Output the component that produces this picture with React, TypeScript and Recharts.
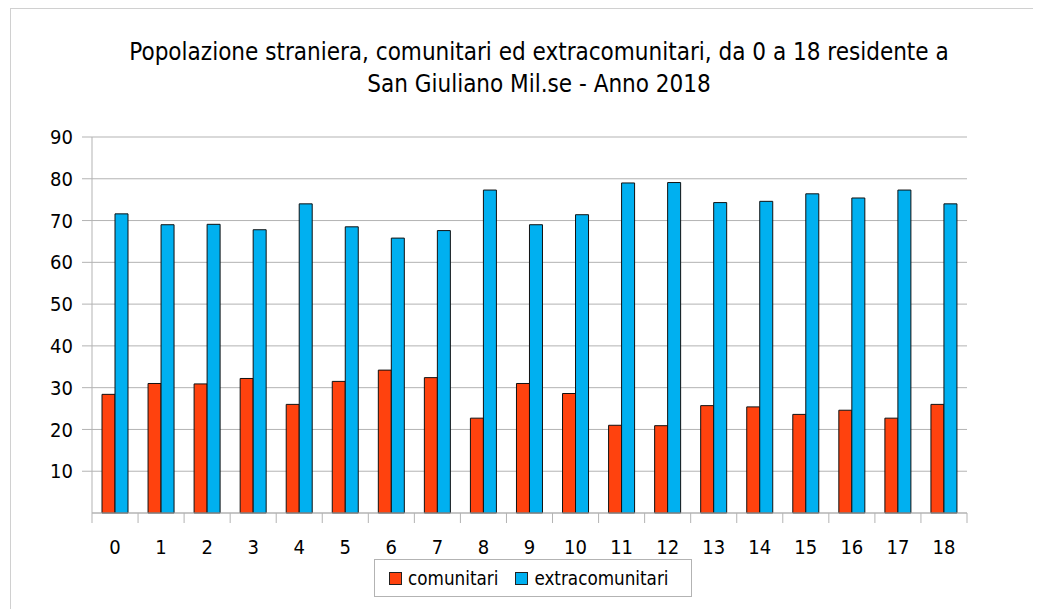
import React from "react";
import {
  BarChart,
  Bar,
  XAxis,
  YAxis,
  CartesianGrid,
  Legend,
} from "recharts";

// età 0..18
const ages = ["0", "1", "2", "3", "4", "5", "6", "7", "8", "9", "10", "11", "12", "13", "14", "15", "16", "17", "18"];
const comunitari = [28.4, 31.0, 30.9, 32.2, 26.0, 31.5, 34.2, 32.4, 22.7, 31.0, 28.6, 21.0, 20.9, 25.7, 25.4, 23.6, 24.6, 22.7, 26.0];
const extracomunitari = [71.6, 69.0, 69.1, 67.8, 74.0, 68.5, 65.8, 67.6, 77.3, 69.0, 71.4, 79.0, 79.1, 74.3, 74.6, 76.4, 75.4, 77.3, 74.0];
const yTicks = [10, 20, 30, 40, 50, 60, 70, 80, 90];

const data = ages.map((age, i) => ({
  age,
  comunitari: comunitari[i],
  extracomunitari: extracomunitari[i],
}));

const FONT = "'DejaVu Sans Condensed', 'DejaVu Sans', sans-serif";
const GRID = "#b3b3b3";

function LegendBox(props: any) {
  const items = props.payload || [];
  return (
    <div
      style={{
        display: "flex",
        alignItems: "center",
        border: "1px solid #b3b3b3",
        height: 38,
        width: 318,
        boxSizing: "border-box",
        padding: "0 14px",
        fontFamily: FONT,
        fontStretch: "condensed",
        fontSize: 18.7,
        color: "#000",
        background: "#fff",
      }}
    >
      {items.map((it: any, i: number) => (
        <div key={i} style={{ display: "flex", alignItems: "center", marginLeft: i ? 17 : 0 }}>
          <span
            style={{
              display: "inline-block",
              width: 11,
              height: 11,
              background: it.color,
              border: "1px solid #222",
              marginRight: 6,
            }}
          />
          <span>{it.value}</span>
        </div>
      ))}
    </div>
  );
}

// category label + tick marks on the category boundaries (as in the original)
function AgeTick(props: any) {
  const { x, y, payload, index, width } = props;
  const band = (width || 875) / ages.length;
  const left = x - band / 2;
  const right = x + band / 2;
  return (
    <g>
      <line x1={left} x2={left} y1={y} y2={y + 10} stroke={GRID} />
      {index === ages.length - 1 && (
        <line x1={right} x2={right} y1={y} y2={y + 10} stroke={GRID} />
      )}
      <text
        x={x}
        y={y + 41}
        textAnchor="middle"
        fontSize={20}
        fontFamily={FONT}
        fill="#000"
      >
        {payload.value}
      </text>
    </g>
  );
}

export default function App() {
  return (
    <div
      style={{
        position: "relative",
        width: 1033,
        height: 601,
        fontFamily: FONT,
        fontStretch: "condensed",
      }}
    >
      <div
        style={{
          position: "absolute",
          left: 2,
          top: 0,
          width: 1031,
          height: 601,
          borderTop: "1px solid #d0d0d0",
          borderLeft: "1px solid #d0d0d0",
          boxSizing: "border-box",
        }}
      />
      <div
        style={{
          position: "absolute",
          left: 0,
          top: 28,
          width: 1062,
          textAlign: "center",
          fontSize: 24,
          lineHeight: "32px",
          color: "#000",
        }}
      >
        Popolazione straniera, comunitari ed extracomunitari, da 0 a 18 residente a
        <br />
        San Giuliano Mil.se - Anno 2018
      </div>
      <BarChart
        width={1033}
        height={601}
        data={data}
        margin={{ top: 129, right: 74, bottom: 18, left: 24 }}
        barCategoryGap={10}
        barGap={0}
        style={{ position: "absolute", left: 0, top: 0 }}
      >
        <CartesianGrid vertical={false} stroke={GRID} />
        <XAxis
          dataKey="age"
          axisLine={{ stroke: GRID }}
          tickLine={false}
          tickSize={0}
          tickMargin={0}
          tick={<AgeTick />}
          height={40}
          interval={0}
        />
        <YAxis
          domain={[0, 90]}
          ticks={yTicks}
          axisLine={{ stroke: GRID }}
          tickLine={{ stroke: GRID }}
          tickSize={10}
          tick={{ fill: "#000", fontSize: 20, fontFamily: FONT }}
          tickMargin={9}
          width={60}
        />
        <YAxis
          yAxisId="right"
          orientation="right"
          domain={[0, 90]}
          tick={false}
          tickLine={false}
          axisLine={{ stroke: GRID }}
          width={0}
        />
        <Legend
          content={<LegendBox />}
          wrapperStyle={{ position: "absolute", left: 366, top: 551, width: 318 }}
        />
        <Bar
          dataKey="comunitari"
          name="comunitari"
          fill="#ff420e"
          stroke="#111"
          strokeWidth={1}
          isAnimationActive={false}
        />
        <Bar
          dataKey="extracomunitari"
          name="extracomunitari"
          fill="#00b0f0"
          stroke="#111"
          strokeWidth={1}
          isAnimationActive={false}
        />
      </BarChart>
    </div>
  );
}
